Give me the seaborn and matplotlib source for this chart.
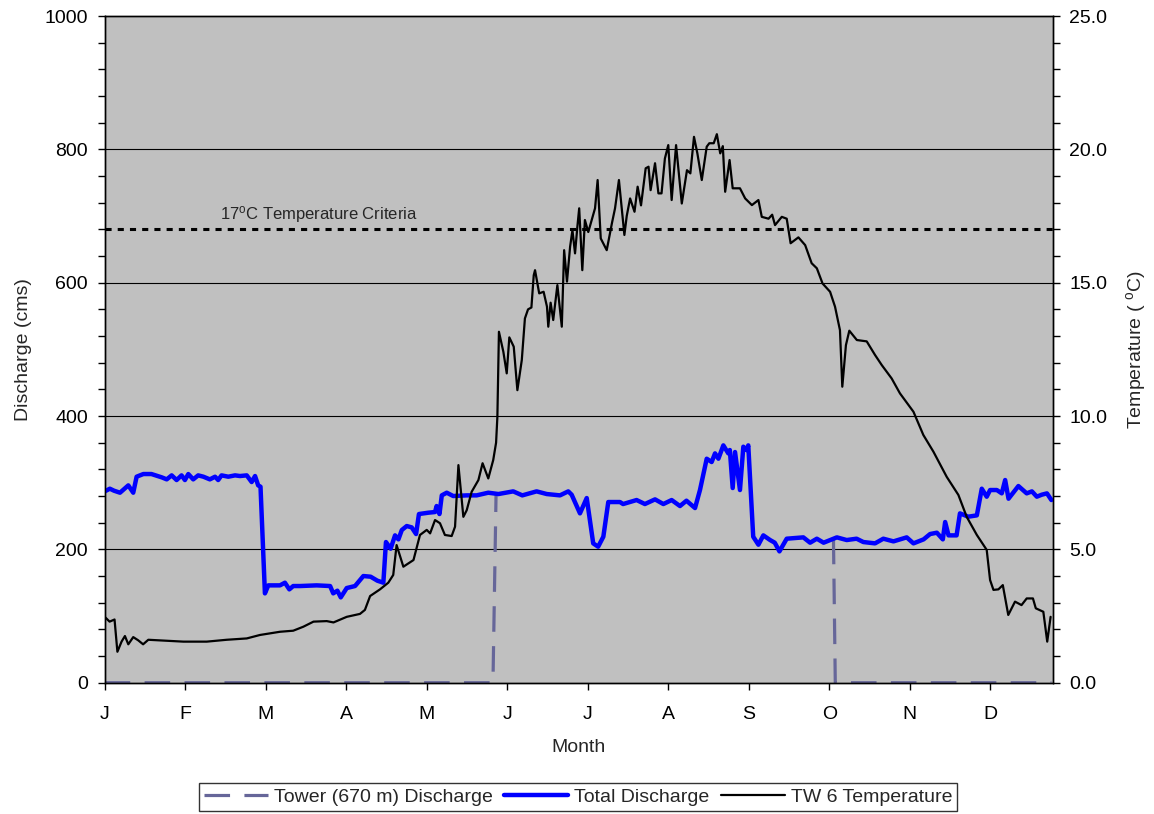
"""
Tower / total discharge and TW 6 temperature over the year
"""
import numpy as np
import pandas as pd
import matplotlib
matplotlib.use('Agg')
import matplotlib.pyplot as plt
import seaborn as sns

## Data
month_labels = ['J', 'F', 'M', 'A', 'M', 'J', 'J', 'A', 'S', 'O', 'N', 'D']
month_start = [0, 31, 62, 93, 124, 155, 186, 217, 248, 279, 310, 341]

# tower discharge: zero outside the tower-on window (inside it is hidden under total)
tower_on_day = [0, 149.5, 150.7]
tower_on_cms = [0, 0, 285]
tower_off_day = [280.6, 281.3, 364.5]
tower_off_cms = [216, 0, 0]

total_day = [0, 2, 3.6, 5.9, 9.1, 11, 12.3, 14.9, 18, 22, 23.9, 25.8, 27.7, 29.6,
             30.9, 32.2, 34.1, 36, 38, 40.5, 42.5, 43.7, 45, 47.6, 50.2, 52.1,
             54.7, 56.6, 57.9, 59.1, 60, 61.7, 63, 67.5, 69.4, 71.1, 72.6, 75.2,
             81.6, 86.8, 88, 89.6, 90.9, 93.2, 96.4, 99.6, 102.4, 105, 107.3,
             108.3, 110.1, 111.8, 113.1, 114.4, 116.3, 118.2, 119.9, 121, 124.6,
             127.2, 127.8, 128.9, 129.8, 131.7, 134.2, 139.4, 143.2, 147.7,
             151.6, 157.3, 160.8, 166.3, 170.2, 175.3, 178.5, 179.8, 183, 185.6,
             188.1, 190, 192, 193.9, 198.4, 199.6, 204.8, 208, 211.9, 215.1,
             218.3, 221.5, 224, 227.3, 229.2, 231.8, 233.7, 235, 236.3, 238.2,
             240.1, 240.7, 241.8, 242.7, 244.6, 245.9, 247.2, 247.8, 249.7,
             251.7, 253.6, 256.2, 258, 259.8, 262.6, 269, 271.6, 274.2, 276.8,
             281.9, 285.7, 289.5, 292.1, 296.6, 299.8, 303.7, 308.8, 311.4,
             315.3, 317.8, 320.4, 322.7, 323.6, 324.9, 328, 329.3, 332.5, 335.8,
             337.7, 339.6, 340.9, 343.5, 345.4, 346.7, 348, 351.8, 355, 357,
             358.9, 360.8, 362.8, 364.5]
total_cms = [287, 291, 288, 285, 296, 285, 309, 313, 313, 308, 305, 311, 304, 311,
             304, 313, 305, 311, 309, 305, 309, 304, 311, 309, 311, 310,
             311, 301, 310, 296, 294, 134, 146, 146, 150, 140, 145, 145,
             146, 145, 134, 138, 128, 142, 145, 160, 159, 153, 150,
             211, 201, 221, 215, 229, 235, 233, 223, 253, 255,
             256, 265, 253, 281, 285, 280, 281, 281, 285,
             283, 287, 281, 287, 283, 281, 287, 282, 254, 277,
             209, 204, 219, 271, 271, 268, 274, 268, 275, 268,
             274, 265, 273, 262, 289, 336, 331, 344, 336, 356,
             344, 349, 292, 346, 289, 354, 349, 356, 219,
             207, 221, 214, 210, 197, 216, 218, 210, 216, 210,
             218, 214, 216, 211, 209, 216, 212, 218, 209,
             215, 223, 225, 215, 241, 221, 221, 254, 249, 251,
             291, 279, 289, 289, 284, 304, 276, 295, 284, 287,
             279, 282, 284, 274]

temp_day = [0, 1.9, 3.8, 4.9, 6.5, 7.8, 9.1, 11, 12.9, 14.8, 16.8, 22.6, 30.3,
            39.3, 47, 54.7, 59.8, 67.5, 72.6, 76.5, 80.4, 85.5, 88.1, 93.2, 98.3,
            100.2, 102.2, 106, 109.2, 111.1, 112.4, 115, 118.9, 121.4, 124, 125.3,
            127.2, 129.1, 131, 133.6, 134.9, 136.2, 138.1, 139.4, 141.3, 143.9,
            145.5, 147.7, 149.6, 150.7, 151.2, 151.8, 153.5, 154.8, 155.8, 157.5,
            158.9, 160.6, 161.8, 163, 164.3, 165.2, 165.7, 167.3, 169, 170.3,
            170.8, 171.7, 172.7, 174.3, 176, 176.9, 178, 179.2, 180.1, 181.1, 182,
            182.7, 183.9, 184.9, 186.2, 188.8, 189.8, 191, 193.3, 195.3, 196.5,
            198, 199, 200.1, 201, 202.3, 204, 205.2, 206.5, 208.3, 209.4, 210.2,
            211.9, 213.2, 214.4, 215.7, 217, 218.3, 220, 222.2, 224.2, 225.5,
            226.9, 228.2, 229.9, 231.8, 232.8, 234.5, 235.7, 237, 238, 238.9,
            240.6, 241.8, 244.6, 246.6, 249.2, 251.7, 253, 255.6, 257, 258.1,
            260.7, 262.6, 264.1, 267.1, 269.7, 272.2, 274.2, 276.4, 279.3, 281.2,
            283.1, 284, 285.4, 286.7, 289.6, 293.4, 296.6, 299.2, 303, 306.2,
            311.4, 315.2, 319.1, 324.2, 328.7, 331.9, 335.8, 339.6, 340.9, 342.2,
            344.1, 345.8, 347.9, 350.5, 353, 355, 357.4, 358.5, 361.4, 362.9,
            364.2]
temp_c = [2.47, 2.29, 2.37, 1.16, 1.54, 1.75, 1.44, 1.71, 1.59, 1.44, 1.61, 1.58, 1.54,
          1.54, 1.61, 1.66, 1.79, 1.91, 1.95, 2.10, 2.29, 2.31, 2.26, 2.47, 2.58,
          2.73, 3.25, 3.50, 3.75, 4.04, 5.16, 4.35, 4.60, 5.54, 5.73, 5.60,
          6.10, 5.98, 5.54, 5.50, 5.85, 8.16, 6.22, 6.47, 7.16, 7.60,
          8.23, 7.66, 8.35, 9.00, 9.97, 13.16, 12.41, 11.60, 12.95, 12.60,
          10.97, 12.10, 13.66, 14.00, 14.07, 15.28, 15.47, 14.60, 14.66, 14.10,
          13.35, 14.25, 13.60, 14.91, 13.35, 16.22, 15.04, 16.35, 16.97, 16.10, 17.10,
          17.79, 15.47, 17.35, 16.90, 17.79, 18.85, 16.66, 16.22, 17.23, 17.79,
          18.85, 17.85, 16.79, 17.50, 18.16, 17.66, 18.60, 17.90, 19.29, 19.35, 18.47,
          19.48, 18.35, 18.35, 19.66, 20.16, 18.10, 20.16, 17.97, 19.22, 19.10,
          20.47, 19.85, 18.85, 20.10, 20.23, 20.23, 20.57, 19.85, 20.12, 18.41,
          19.60, 18.54, 18.54, 18.16, 17.91, 18.10, 17.47, 17.40, 17.55, 17.16,
          17.47, 17.40, 16.48, 16.70, 16.41, 15.73, 15.54, 14.97, 14.66, 14.10,
          13.22, 11.10, 12.66, 13.20, 12.85, 12.80, 12.29, 11.91, 11.41, 10.85,
          10.16, 9.29, 8.66, 7.72, 7.04, 6.22, 5.54, 4.98, 3.85, 3.48,
          3.50, 3.66, 2.54, 3.04, 2.91, 3.16, 3.16, 2.79, 2.66, 1.54,
          2.47]

criteria_temp = 17.0
criteria_label = '17$^{o}$C Temperature Criteria'

discharge_ticks = [0, 200, 400, 600, 800, 1000]
temp_ticks = [0, 5, 10, 15, 20, 25]

## Style
sns.set_theme(style='ticks')
plt.rcParams['font.family'] = ['Liberation Sans', 'DejaVu Sans']
plt.rcParams['mathtext.default'] = 'regular'

fig = plt.figure(figsize=(11.54, 8.14), dpi=100)
ax = fig.add_axes([0.0907, 0.1613, 0.8215, 0.819])
ax.set_facecolor('#C0C0C0')
ax2 = ax.twinx()
ax2.patch.set_visible(False)

# gridlines at major discharge ticks
for y in discharge_ticks[1:-1]:
    ax.axhline(y, color='black', lw=0.8, zorder=1)

sns.lineplot(x=tower_on_day, y=tower_on_cms, ax=ax, color='#666699', lw=2.3,
             linestyle=(0, (8, 4.5)), estimator=None, label='Tower (670 m) Discharge',
             zorder=2)
sns.lineplot(x=tower_off_day, y=tower_off_cms, ax=ax, color='#666699', lw=2.3,
             linestyle=(0, (8, 4.5)), estimator=None, zorder=2)
sns.lineplot(x=total_day, y=total_cms, ax=ax, color='#0000FF', lw=3.2,
             estimator=None, label='Total Discharge', zorder=3)
sns.lineplot(x=temp_day, y=temp_c, ax=ax2, color='black', lw=1.6,
             estimator=None, label='TW 6 Temperature', zorder=3)

ax2.axhline(criteria_temp, color='black', lw=2.2, linestyle=(0, (2, 2)), zorder=2)
ax2.text(44.5, criteria_temp + 0.15, criteria_label, fontsize=12, va='bottom', ha='left')

ax.set_xlim(0, 365)
ax.set_ylim(0, 1000)
ax2.set_ylim(0, 25)
ax.set_xticks(month_start)
ax.set_xticklabels(month_labels)
ax.set_yticks(discharge_ticks)
ax.set_yticks(np.arange(0, 1001, 40), minor=True)
ax2.set_yticks(temp_ticks)
ax2.set_yticklabels([f'{t:.1f}' for t in temp_ticks])
ax2.set_yticks(np.arange(0, 26, 1), minor=True)

for a in (ax, ax2):
    a.tick_params(which='both', direction='out', length=5, width=1, color='black',
                  labelsize=14, labelcolor='black')
    a.tick_params(axis='y', pad=7)
    for s in a.spines.values():
        s.set_color('black')
        s.set_linewidth(1)
ax.tick_params(axis='x', pad=12)

ax.set_xlabel('Month', fontsize=14, labelpad=11)
ax.set_ylabel('Discharge (cms)', fontsize=14, labelpad=9)
ax2.set_ylabel('Temperature ( $^{o}$C)', fontsize=14, labelpad=12)

# one legend at the bottom for both axes
h1, l1 = ax.get_legend_handles_labels()
h2, l2 = ax2.get_legend_handles_labels()
ax.get_legend().remove()
ax2.get_legend().remove()
leg = fig.legend(h1 + h2, l1 + l2, loc='center', bbox_to_anchor=(0.501, 0.021),
                 ncol=3, fontsize=14, frameon=True, fancybox=False, edgecolor='black',
                 handlelength=3.3, handletextpad=0.3, columnspacing=0.6,
                 borderpad=0.25, borderaxespad=0)
leg.get_frame().set_linewidth(1)

fig.savefig('out.png', dpi=100)
